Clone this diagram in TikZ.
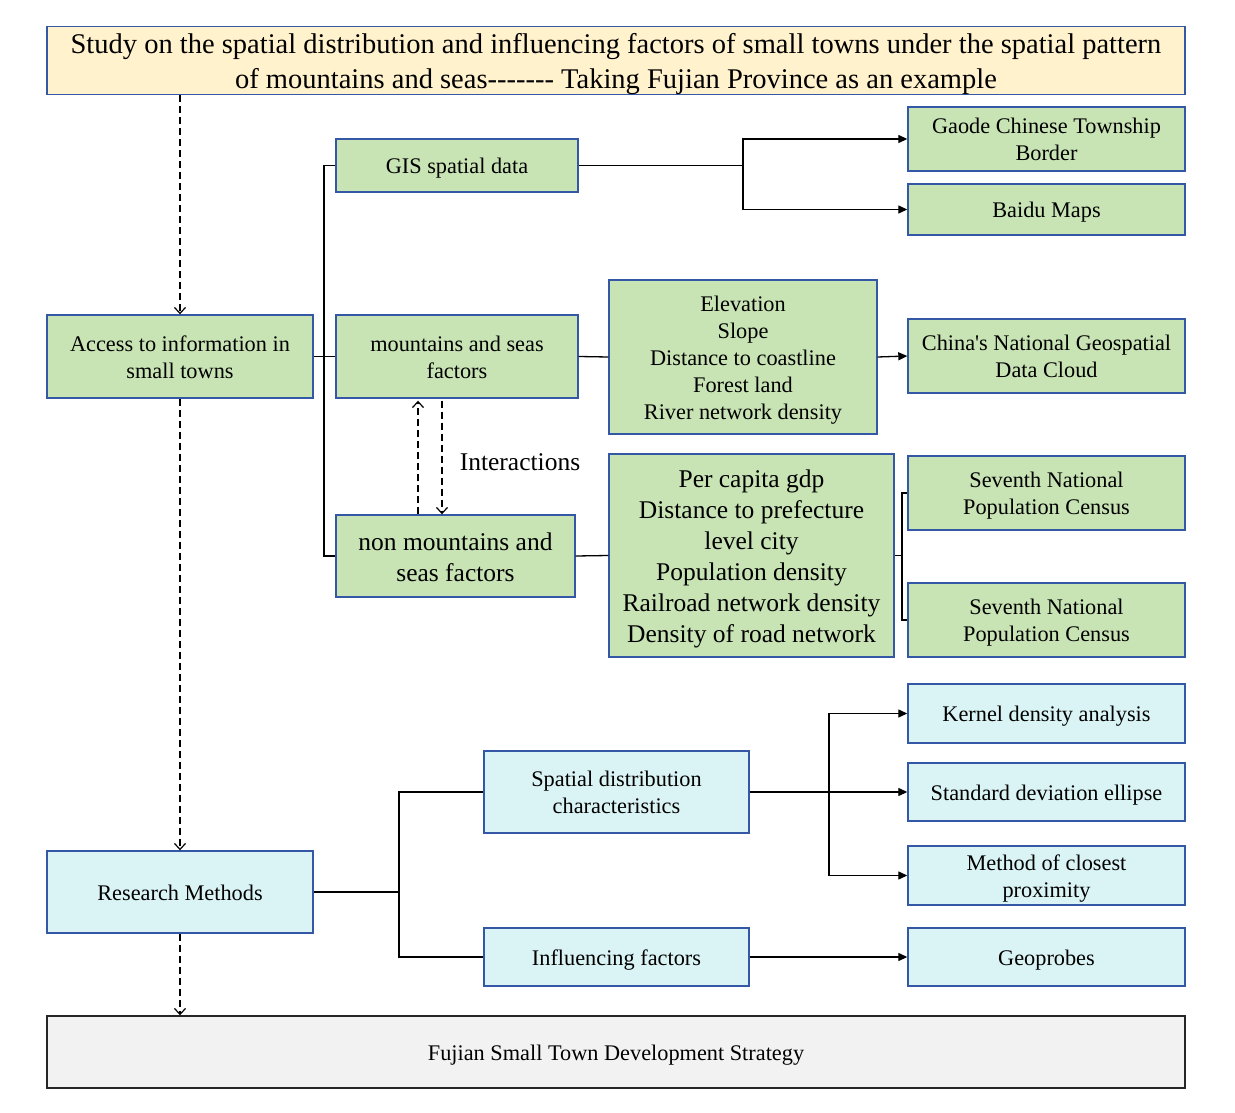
\documentclass[tikz,border=0pt]{standalone}
\usepackage{fontspec}
\setmainfont{Liberation Serif}[Ligatures=TeXOff]
\usetikzlibrary{arrows.meta,calc}
\definecolor{bordblue}{HTML}{3558A6}
\definecolor{gfill}{HTML}{C8E3B4}
\definecolor{bfill}{HTML}{DAF3F5}
\definecolor{yfill}{HTML}{FFF2CC}
\definecolor{grfill}{HTML}{F2F2F2}
\newcommand{\boxstrut}{\rule[-0.2em]{0pt}{1.15em}}
\tikzset{
  base/.style={draw=bordblue, line width=1.4pt, inner sep=0pt, align=center, font=\fontsize{22.3pt}{27pt}\selectfont,
    execute at end node=\boxstrut},
  gbox/.style={base, fill=gfill},
  bbox/.style={base, fill=bfill},
  bigtxt/.style={font=\fontsize{25.5pt}{31pt}\selectfont},
  conn/.style={line width=1.3pt},
  arr/.style={conn, -{Triangle[length=9pt,width=8pt]}},
  darr/.style={line width=1.2pt, dash pattern=on 7pt off 4pt, -{Straight Barb[length=6pt,width=11pt]}},
}
\begin{document}
\begin{tikzpicture}[x=1pt,y=-1pt]
\useasboundingbox (0,0) rectangle (1235,1113);
% title
\node[base, fill=yfill, minimum width=1138pt, minimum height=67pt, font=\fontsize{28.5pt}{35pt}\selectfont] (title) at (616,60.5)
  {\boxstrut Study on the spatial distribution and influencing factors of small towns under the spatial pattern\\ of mountains and seas------- Taking Fujian Province as an example};
% left column
\node[gbox, minimum width=266pt, minimum height=83pt] (access) at (180,356.5) {\boxstrut Access to information in\\ small towns};
\node[bbox, minimum width=266pt, minimum height=82pt] (research) at (180,892) {Research Methods};
% second column
\node[gbox, minimum width=242pt, minimum height=53pt] (gis) at (457,165.5) {GIS spatial data};
\node[gbox, minimum width=242pt, minimum height=83pt] (mount) at (457,356.5) {\boxstrut mountains and seas\\ factors};
\node[gbox, bigtxt, minimum width=239pt, minimum height=82pt] (non) at (455.5,556) {\boxstrut non mountains and\\ seas factors};
% third column
\node[gbox, minimum width=268pt, minimum height=154pt] (elev) at (743,357) {\boxstrut Elevation\\ Slope\\ Distance to coastline\\ Forest land\\ River network density};
\node[gbox, bigtxt, minimum width=285pt, minimum height=203pt] (percap) at (751.5,555.5) {\boxstrut Per capita gdp\\ Distance to prefecture\\ level city\\ Population density\\ Railroad network density\\ Density of road network};
% right column (green)
\node[gbox, minimum width=277pt, minimum height=64pt] (gaode) at (1046.5,139) {\boxstrut Gaode Chinese Township\\ Border};
\node[gbox, minimum width=277pt, minimum height=51pt] (baidu) at (1046.5,209.5) {Baidu Maps};
\node[gbox, minimum width=277pt, minimum height=74pt] (china) at (1046.5,356) {\boxstrut China's National Geospatial\\ Data Cloud};
\node[gbox, minimum width=277pt, minimum height=74pt] (sev1) at (1046.5,493) {\boxstrut Seventh National\\ Population Census};
\node[gbox, minimum width=277pt, minimum height=74pt] (sev2) at (1046.5,620) {\boxstrut Seventh National\\ Population Census};
% methods
\node[bbox, minimum width=265pt, minimum height=82pt] (spatial) at (616.5,792) {\boxstrut Spatial distribution\\ characteristics};
\node[bbox, minimum width=265pt, minimum height=58pt] (infl) at (616.5,957) {Influencing factors};
\node[bbox, minimum width=277pt, minimum height=59pt] (kernel) at (1046.5,713.5) {Kernel density analysis};
\node[bbox, minimum width=277pt, minimum height=58pt] (std) at (1046.5,792) {Standard deviation ellipse};
\node[bbox, minimum width=277pt, minimum height=59pt] (method) at (1046.5,875.5) {\boxstrut Method of closest\\ proximity};
\node[bbox, minimum width=277pt, minimum height=58pt] (geo) at (1046.5,957) {Geoprobes};
% bottom
\node[base, draw=black!85, fill=grfill, minimum width=1138pt, minimum height=72pt] (fujian) at (616,1052) {Fujian Small Town Development Strategy};
% interactions label
\node[inner sep=0pt, font=\fontsize{25.5pt}{31pt}\selectfont] (inter) at (520,462) {Interactions};

% bus coordinates
\coordinate (b1) at (324,356.5);
\coordinate (b2) at (743,165.5);
\coordinate (b3) at (902,555.5);
\coordinate (b4) at (399,892);
\coordinate (b5) at (829,792);

% connectors
\draw[conn] (access.east) -- (b1) |- (gis.west);
\draw[conn] (b1) |- (non.west);
\draw[conn] (b1) -- (mount.west);
\draw[conn] (gis.east) -- (b2);
\draw[arr] (b2) |- (gaode.west);
\draw[arr] (b2) |- (baidu.west);
\draw[conn] (mount.east) -- (elev.west);
\draw[arr] (elev.east) -- (china.west);
\draw[conn] (non.east) -- (percap.west);
\draw[conn] (percap.east) -- (b3) |- (sev1.west);
\draw[conn] (b3) |- (sev2.west);
\draw[conn] (research.east) -- (b4) |- (spatial.west);
\draw[conn] (b4) |- (infl.west);
\draw[conn] (spatial.east) -- (b5);
\draw[arr] (b5) |- (kernel.west);
\draw[arr] (b5) -- (std.west);
\draw[arr] (b5) |- (method.west);
\draw[arr] (infl.east) -- (geo.west);

% dashed
\draw[darr] (title.south -| access.north) -- (access.north);
\draw[darr] (access.south) -- (research.north);
\draw[darr] (research.south) -- (fujian.north -| research.south);
\draw[darr, shorten >=2pt] ([xshift=-37.5pt]non.north) -- ([xshift=-39pt]mount.south);
\draw[darr, shorten <=2pt] ([xshift=-15pt]mount.south) -- ([xshift=-13.5pt]non.north);
\end{tikzpicture}
\end{document}
